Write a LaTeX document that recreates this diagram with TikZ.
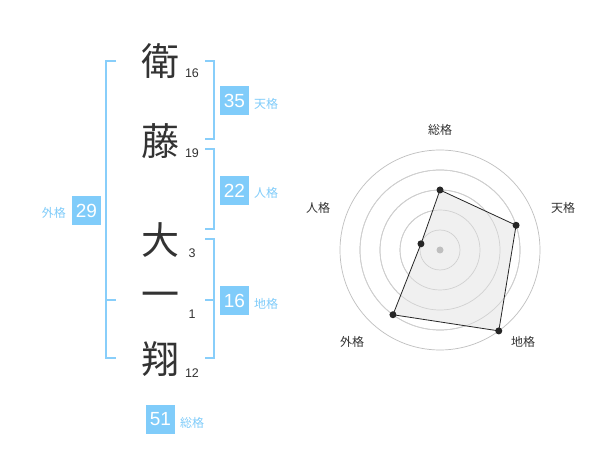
\documentclass[tikz,border=0pt]{standalone}
\usepackage{fontspec}
\setmainfont{Liberation Sans}
\newfontfamily\cjk{Noto Sans CJK JP}
\begin{document}
\begin{tikzpicture}[x=1pt,y=-1pt,
  kanji/.style={inner sep=0pt,text=black!80,font=\cjk\fontsize{38}{38}\selectfont},
  stroke/.style={inner sep=0pt,text=black!80,font=\fontsize{12.5}{12.5}\selectfont},
  valbox/.style={fill=boxblue,text=white,minimum width=29pt,minimum height=29pt,inner sep=0pt,font=\fontsize{19}{19}\selectfont},
  kaku/.style={inner sep=0pt,text=boxblue,font=\cjk\fontsize{12}{12}\selectfont},
  bracket/.style={draw=brblue,line width=2pt},
  ring/.style={draw=black!25,line width=0.7pt},
  rlabel/.style={inner sep=0pt,text=black!80,font=\cjk\fontsize{12}{12}\selectfont},
  pt/.style={circle,fill=black!85,inner sep=0pt,minimum size=7pt}]
\definecolor{boxblue}{RGB}{128,204,250}
\definecolor{brblue}{RGB}{136,206,250}
\useasboundingbox (0,0) rectangle (600,470);
\fill[white] (0,0) rectangle (600,470);
% kanji
\node[kanji] (k1) at (160,61) {衛};
\node[kanji] (k2) at (160,141) {藤};
\node[kanji] (k3) at (160,240) {大};
\node[kanji] (k4) at (160,300) {一};
\node[kanji] (k5) at (160,359) {翔};
\node[stroke] (s1) at (192,73) {16};
\node[stroke] (s2) at (192,153) {19};
\node[stroke] (s3) at (192,253) {3};
\node[stroke] (s4) at (192,314) {1};
\node[stroke] (s5) at (192,373) {12};
% brackets
\draw[bracket] (116,61) -- (105.5,61) -- (105.5,358) -- (116,358);
\draw[bracket] (105.5,300) -- (116,300);
\draw[bracket] (205,61) -- (214,61) -- (214,139) -- (205,139);
\draw[bracket] (205,149.5) -- (214,149.5) -- (214,229.5) -- (205,229.5);
\draw[bracket] (205,239.5) -- (214,239.5) -- (214,358) -- (205,358);
\draw[bracket] (205,300) -- (214,300);
% value boxes
\node[valbox] (ten) at (234.5,100.5) {35};
\node[kaku,anchor=west] (tenl) at (254,104) {天格};
\node[valbox] (jin) at (234.5,190.5) {22};
\node[kaku,anchor=west] (jinl) at (254,193) {人格};
\node[valbox] (chi) at (234.5,300.5) {16};
\node[kaku,anchor=west] (chil) at (254,304) {地格};
\node[valbox] (gai) at (86.5,210.5) {29};
\node[kaku,anchor=east] (gail) at (66,213) {外格};
\node[valbox] (sou) at (160.5,419) {51};
\node[kaku,anchor=west] (soul) at (180,423) {総格};
% radar
\coordinate (c) at (440,250);
\foreach \r in {20,40,60,80,100} \draw[ring] (c) circle[radius=\r];
\path (c) ++(0,-60) coordinate (p1);
\path (c) ++({80*cos(18)},{-80*sin(18)}) coordinate (p2);
\path (c) ++({100*cos(-54)},{-100*sin(-54)}) coordinate (p3);
\path (c) ++({80*cos(-126)},{-80*sin(-126)}) coordinate (p4);
\path (c) ++({20*cos(162)},{-20*sin(162)}) coordinate (p5);
\fill[fill=black!6] (p1) -- (p2) -- (p3) -- (p4) -- (p5) -- cycle;
\foreach \r in {20,40,60,80} \draw[ring,draw=black!18] (c) circle[radius=\r];
\draw[draw=black!85,line width=0.8pt] (p1) -- (p2) -- (p3) -- (p4) -- (p5) -- cycle;
\fill[black!25] (c) circle[radius=3.5];
\foreach \p in {p1,p2,p3,p4,p5} \node[pt] at (\p) {};
\node[rlabel] (r1) at (440,130) {総格};
\node[rlabel] (r2) at (563,208) {天格};
\node[rlabel] (r3) at (523,342) {地格};
\node[rlabel] (r4) at (352,342) {外格};
\node[rlabel] (r5) at (318,208) {人格};
\end{tikzpicture}
\end{document}
